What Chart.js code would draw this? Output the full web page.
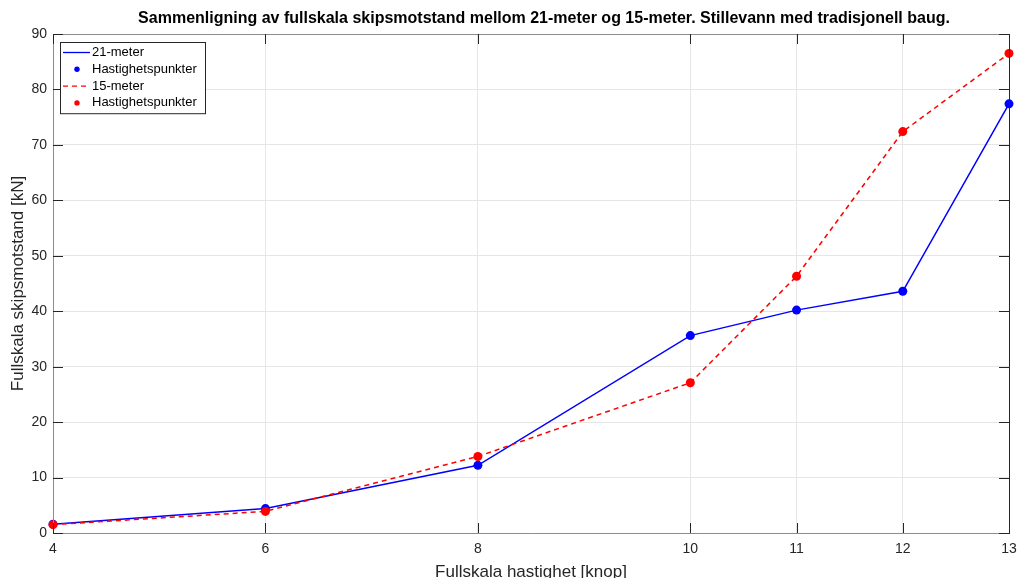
<!DOCTYPE html>
<html lang="no">
<head>
    <meta charset="UTF-8">
    <title>Skipsmotstand 21-meter og 15-meter</title>
    <script src="https://cdn.jsdelivr.net/npm/chart.js"></script>
    <style>
        body {
            margin: 0;
            background-color: #ffffff;
        }
        #chart {
            display: block;
        }
    </style>
</head>
<body>
    <canvas id="chart" width="1018" height="578"></canvas>

    <script>
        // Hastighet [knop] og motstand [kN] for begge skrogene
        const speeds = [4, 6, 8, 10, 11, 12, 13];
        const resist21 = [1.6, 4.4, 12.2, 35.6, 40.2, 43.6, 77.4];
        const resist15 = [1.5, 3.9, 13.8, 27.1, 46.3, 72.4, 86.5];
        const xTicks = [4, 6, 8, 10, 11, 12, 13];
        const yTicks = [0, 10, 20, 30, 40, 50, 60, 70, 80, 90];

        const TITLE = 'Sammenligning av fullskala skipsmotstand mellom 21-meter og 15-meter. Stillevann med tradisjonell baug.';
        const FONT = "'Liberation Sans', Arial, sans-serif";
        const AXIS = '#262626';

        const pts = ys => speeds.map((x, i) => ({ x: x, y: ys[i] }));

        // Title centred over the axes, tick marks inside the box, and the box itself
        const boxPlugin = {
            id: 'box',
            afterDatasetsDraw(chart) {
                const { ctx, chartArea: a, scales: { x, y } } = chart;
                ctx.save();
                ctx.fillStyle = '#000000';
                ctx.font = 'bold 16px ' + FONT;
                ctx.textAlign = 'center';
                ctx.textBaseline = 'middle';
                ctx.fillText(TITLE, (a.left + a.right) / 2 + 13, 19);

                ctx.lineWidth = 1;
                ctx.strokeStyle = '#8c8c8c';
                ctx.beginPath();
                ctx.moveTo(a.left + 0.5, a.top + 0.5);
                ctx.lineTo(a.left + 0.5, a.bottom + 0.5);
                ctx.lineTo(a.right, a.bottom + 0.5);
                ctx.moveTo(a.left, a.top + 0.5);
                ctx.lineTo(a.right, a.top + 0.5);
                ctx.stroke();
                ctx.strokeStyle = AXIS;
                ctx.beginPath();
                ctx.moveTo(a.right + 0.5, a.top);
                ctx.lineTo(a.right + 0.5, a.bottom + 1);
                xTicks.forEach(v => {
                    const px = Math.round(x.getPixelForValue(v)) + 0.5;
                    ctx.moveTo(px, a.bottom);
                    ctx.lineTo(px, a.bottom - 10);
                    ctx.moveTo(px, a.top);
                    ctx.lineTo(px, a.top + 10);
                });
                yTicks.forEach(v => {
                    const py = Math.round(y.getPixelForValue(v)) + 0.5;
                    ctx.moveTo(a.left, py);
                    ctx.lineTo(a.left + 10, py);
                    ctx.moveTo(a.right, py);
                    ctx.lineTo(a.right - 10, py);
                });
                ctx.stroke();
                ctx.restore();
            }
        };

        // Legend box in the upper left corner of the plot
        const legendPlugin = {
            id: 'innerLegend',
            afterDraw(chart) {
                const { ctx, chartArea: a } = chart;
                const sets = chart.data.datasets;
                const left = a.left + 7, top = a.top + 8;
                const w = 145, rowH = 16.8;
                ctx.save();
                ctx.fillStyle = '#ffffff';
                ctx.fillRect(left, top, w, rowH * sets.length + 4);
                ctx.strokeStyle = AXIS;
                ctx.lineWidth = 1;
                ctx.strokeRect(left + 0.5, top + 0.5, w, rowH * sets.length + 4);
                ctx.font = '13px ' + FONT;
                ctx.textBaseline = 'middle';
                sets.forEach((ds, i) => {
                    const cy = top + 10.5 + i * rowH;
                    if (ds.showLine === false) {
                        ctx.fillStyle = ds.pointBackgroundColor;
                        ctx.beginPath();
                        ctx.arc(left + 17, cy, 2.7, 0, Math.PI * 2);
                        ctx.fill();
                    } else {
                        ctx.strokeStyle = ds.borderColor;
                        ctx.lineWidth = 1.3;
                        ctx.setLineDash(ds.borderDash || []);
                        ctx.beginPath();
                        ctx.moveTo(left + 3, cy);
                        ctx.lineTo(left + 30, cy);
                        ctx.stroke();
                        ctx.setLineDash([]);
                    }
                    ctx.fillStyle = '#000000';
                    ctx.fillText(ds.label, left + 32, cy);
                });
                ctx.restore();
            }
        };

        new Chart(document.getElementById('chart'), {
            type: 'line',
            data: {
                datasets: [
                    {
                        label: '21-meter',
                        data: pts(resist21),
                        borderColor: '#0000ff',
                        borderWidth: 1.5,
                        pointRadius: 0,
                        fill: false,
                        order: 3
                    },
                    {
                        label: 'Hastighetspunkter',
                        data: pts(resist21),
                        showLine: false,
                        pointRadius: 4.5,
                        pointBackgroundColor: '#0000ff',
                        pointBorderWidth: 0,
                        order: 2
                    },
                    {
                        label: '15-meter',
                        data: pts(resist15),
                        borderColor: '#ff0000',
                        borderWidth: 1.5,
                        borderDash: [5, 4],
                        pointRadius: 0,
                        fill: false,
                        order: 1
                    },
                    {
                        label: 'Hastighetspunkter',
                        data: pts(resist15),
                        showLine: false,
                        pointRadius: 4.5,
                        pointBackgroundColor: '#ff0000',
                        pointBorderWidth: 0,
                        order: 0
                    }
                ]
            },
            options: {
                responsive: false,
                animation: false,
                devicePixelRatio: 1,
                clip: false,
                layout: { padding: { left: 0, right: 9, top: 34, bottom: 0 } },
                plugins: {
                    legend: { display: false },
                    tooltip: { enabled: false },
                    title: { display: false }
                },
                scales: {
                    x: {
                        type: 'linear',
                        min: 4,
                        max: 13,
                        afterBuildTicks: s => { s.ticks = xTicks.map(v => ({ value: v })); },
                        afterFit: s => { s.height = 45; s.paddingLeft = 0; s.paddingRight = 0; },
                        ticks: { color: AXIS, font: { family: FONT, size: 14 }, padding: 8 },
                        grid: { color: '#e6e6e6', drawTicks: false },
                        border: { display: false },
                        title: {
                            display: true,
                            text: 'Fullskala hastighet [knop]',
                            color: AXIS,
                            font: { family: FONT, size: 17 },
                            padding: { top: 0, bottom: -5 }
                        }
                    },
                    y: {
                        min: 0,
                        max: 90,
                        afterBuildTicks: s => { s.ticks = yTicks.map(v => ({ value: v })); },
                        afterFit: s => { s.width = 53; s.paddingTop = 0; s.paddingBottom = 0; },
                        ticks: { color: AXIS, font: { family: FONT, size: 14 }, padding: 6 },
                        grid: { color: '#e6e6e6', drawTicks: false },
                        border: { display: false },
                        title: {
                            display: true,
                            text: 'Fullskala skipsmotstand [kN]',
                            color: AXIS,
                            font: { family: FONT, size: 17 },
                            padding: { top: 8, bottom: 0 }
                        }
                    }
                }
            },
            plugins: [boxPlugin, legendPlugin]
        });
    </script>
</body>
</html>
